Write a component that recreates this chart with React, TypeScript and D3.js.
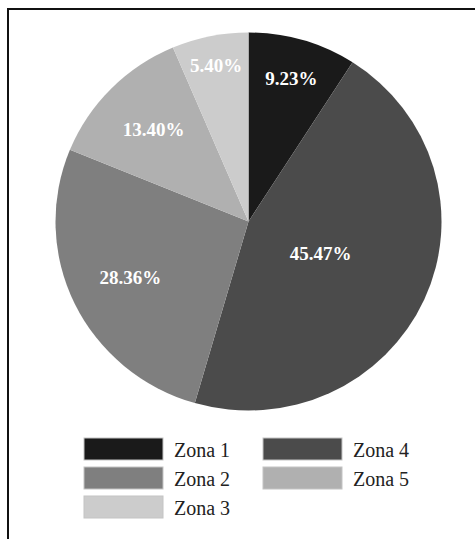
import * as d3 from "d3";

const zones = ["Zona 1", "Zona 4", "Zona 2", "Zona 5", "Zona 3"];
// slice sizes as drawn in the picture (percent of the circle)
const shares = [9.06, 45.4, 26.7, 12.4, 6.4];
const labels = ["9.23%", "45.47%", "28.36%", "13.40%", "5.40%"];
const colors = ["#1a1a1a", "#4b4b4b", "#7f7f7f", "#b0b0b0", "#cccccc"];

const legendOrder = ["Zona 1", "Zona 2", "Zona 3", "Zona 4", "Zona 5"];

// label distance from the centre, as a fraction of the radius
const labelRadius = [0.79, 0.41, 0.68, 0.69, 0.84];

const W = 475;
const H = 539;
const cx = 248.5;
const cy = 221.5;
const ry = 189;
const rx = 193; // the original is a little stretched sideways

export default function App() {
  const pie = d3.pie<number>().sort(null).value((d) => d);
  const arcs = pie(shares);
  const arc = d3.arc<d3.PieArcDatum<number>>().innerRadius(0).outerRadius(ry);

  const colorOf = (z: string) => colors[zones.indexOf(z)];

  return (
    <svg
      width={W}
      height={H}
      style={{ position: "fixed", left: 0, top: 0, background: "#fff" }}
      fontFamily="'Liberation Serif', 'Times New Roman', serif"
    >
      <rect x={0} y={0} width={W} height={H} fill="#fff" />
      <path d={`M8,${H} L8,9 L${W},9`} fill="none" stroke="#111" strokeWidth={2} />

      <g transform={`translate(${cx},${cy}) scale(${rx / ry},1)`}>
        {arcs.map((a, i) => (
          <path key={zones[i]} d={arc(a) ?? ""} fill={colors[i]} />
        ))}
      </g>

      {arcs.map((a, i) => {
        const mid = (a.startAngle + a.endAngle) / 2;
        const x = cx + Math.sin(mid) * rx * labelRadius[i];
        const y = cy - Math.cos(mid) * ry * labelRadius[i];
        return (
          <text
            key={labels[i]}
            x={x}
            y={y}
            textAnchor="middle"
            dominantBaseline="central"
            fill="#fff"
            fontWeight="bold"
            fontSize={19}
          >
            {labels[i]}
          </text>
        );
      })}

      {legendOrder.map((z, i) => {
        const col = i < 3 ? 0 : 1;
        const row = i < 3 ? i : i - 3;
        const x0 = 84 + col * 179;
        const y0 = 438 + row * 29;
        return (
          <g key={z}>
            <rect
              x={x0}
              y={y0}
              width={79}
              height={22}
              fill={colorOf(z)}
              stroke="#c4c4c4"
              strokeWidth={1}
            />
            <text x={x0 + 90} y={y0 + 19} fontSize={20} fill="#222">
              {z}
            </text>
          </g>
        );
      })}
    </svg>
  );
}
